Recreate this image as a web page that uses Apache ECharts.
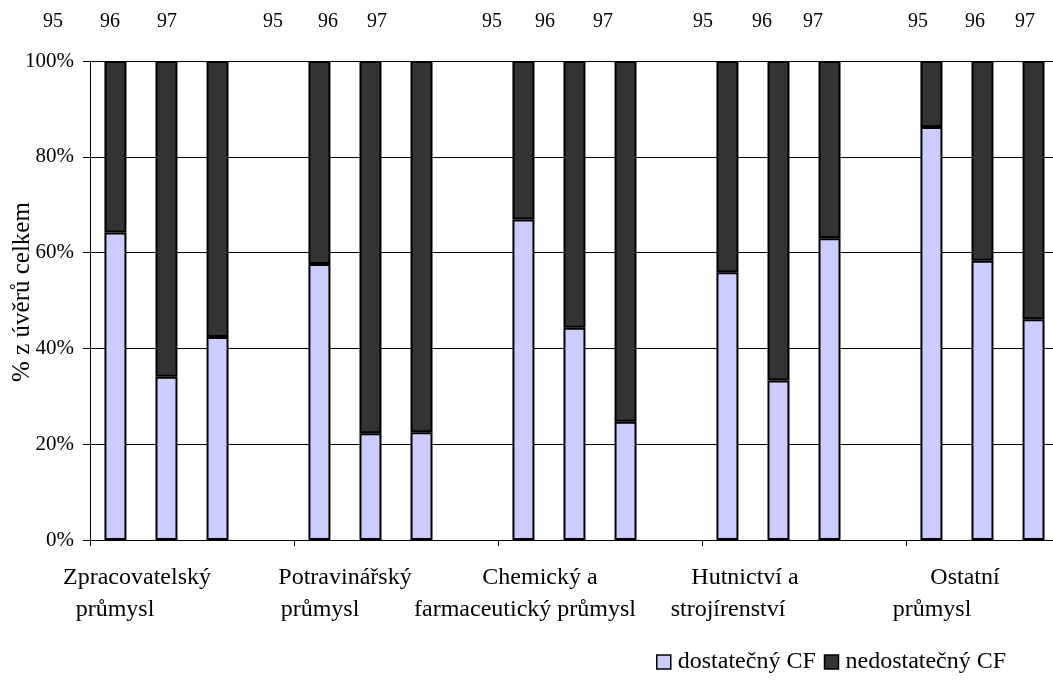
<!DOCTYPE html>
<html>
<head>
<meta charset="utf-8">
<script src="https://cdn.jsdelivr.net/npm/echarts@6/dist/echarts.min.js"></script>
<style>
html,body{margin:0;padding:0;background:#fff;}
#chart{width:1053px;height:696px;}
</style>
</head>
<body>
<div id="chart"></div>
<script>
// ---- data ----
const categories = ['Zpracovatelský průmysl', 'Potravinářský průmysl', 'Chemický a farmaceutický průmysl', 'Hutnictví a strojírenství', 'Ostatní průmysl'];
const categoryLines = [
  ['Zpracovatelský', 'průmysl'],
  ['Potravinářský', 'průmysl'],
  ['Chemický a', 'farmaceutický průmysl'],
  ['Hutnictví a', 'strojírenství'],
  ['Ostatní', 'průmysl']
];
const years = ['95', '96', '97'];
const seriesNames = ['dostatečný CF', 'nedostatečný CF'];
const yAxisTitle = '% z úvěrů celkem';
const dost95 = [64.2, 57.6, 66.9, 55.9, 86.2];
const dost96 = [34.1, 22.3, 44.3, 33.3, 58.3];
const dost97 = [42.4, 22.5, 24.7, 63.0, 46.1];
const nedost95 = [35.8, 42.4, 33.1, 44.1, 13.8];
const nedost96 = [65.9, 77.7, 55.7, 66.7, 41.7];
const nedost97 = [57.6, 77.5, 75.3, 37.0, 53.9];
const yTicks = [0, 20, 40, 60, 80, 100];

// ---- layout / style ----
const FONT = "'Liberation Serif', 'Times New Roman', serif";
const dostValues = [dost95, dost96, dost97];
const nedostValues = [nedost95, nedost96, nedost97];
const colors = ['#CCCCFF', '#333333'];

const series = [];
years.forEach((y, i) => {
  series.push({
    type: 'bar', name: seriesNames[0], stack: 'y' + y, data: dostValues[i],
    barWidth: 22, barGap: '132%',
    itemStyle: { color: colors[0], borderColor: '#000', borderWidth: 2 }
  });
  series.push({
    type: 'bar', name: seriesNames[1], stack: 'y' + y, data: nedostValues[i],
    barWidth: 22, barGap: '132%',
    itemStyle: { color: colors[1], borderColor: '#000', borderWidth: 2 }
  });
});
// empty fourth slot in each category (as in the original chart)
series.push({ type: 'bar', name: 'gap', stack: 'gap', data: [], barWidth: 22, barGap: '132%', silent: true });

// annotation positions (pixel layout)
const yearLabelX = [[53, 110, 167], [273, 328, 377], [492, 545, 603], [703, 762, 813], [918, 975, 1025]];
const catLine1X = [137, 345, 540, 745, 965];
const catLine2X = [115, 320, 525, 728, 932];

const graphic = [];
yearLabelX.forEach((xs) => {
  xs.forEach((x, j) => {
    graphic.push({ type: 'text', x: x, y: 22, style: { text: years[j], font: '20px ' + FONT, fill: '#000', textAlign: 'center', textVerticalAlign: 'middle' } });
  });
});
categoryLines.forEach((lines, i) => {
  graphic.push({ type: 'text', x: catLine1X[i], y: 578, style: { text: lines[0], font: '24px ' + FONT, fill: '#000', textAlign: 'center', textVerticalAlign: 'middle' } });
  graphic.push({ type: 'text', x: catLine2X[i], y: 610, style: { text: lines[1], font: '24px ' + FONT, fill: '#000', textAlign: 'center', textVerticalAlign: 'middle' } });
});
graphic.push({ type: 'text', x: 22, y: 292, rotation: Math.PI / 2, style: { text: yAxisTitle, font: '25px ' + FONT, fill: '#000', textAlign: 'center', textVerticalAlign: 'middle' } });

const chart = echarts.init(document.getElementById('chart'), null, { renderer: 'canvas' });
chart.setOption({
  backgroundColor: '#fff',
  animation: false,
  textStyle: { fontFamily: FONT, color: '#000' },
  grid: { left: 90, top: 61, width: 1020, height: 479, containLabel: false, outerBoundsMode: 'none' },
  legend: {
    data: seriesNames,
    left: 651, top: 645,
    icon: 'rect', itemWidth: 14, itemHeight: 14, itemGap: 8,
    itemStyle: { borderColor: '#000', borderWidth: 1.5 },
    textStyle: { fontFamily: FONT, fontSize: 24, color: '#000', padding: [0, 0, 0, 2] }
  },
  xAxis: {
    type: 'category', data: categories, boundaryGap: true,
    axisLine: { show: true, lineStyle: { color: '#000', width: 1 } },
    axisTick: { show: true, interval: 0, length: 6, lineStyle: { color: '#000' } },
    axisLabel: { show: false, interval: 0 },
    splitLine: { show: false }
  },
  yAxis: {
    type: 'value', min: yTicks[0], max: yTicks[yTicks.length - 1], interval: yTicks[1] - yTicks[0],
    axisLine: { show: true, lineStyle: { color: '#000', width: 1 } },
    axisTick: { show: true, length: 7, lineStyle: { color: '#000' } },
    axisLabel: { formatter: '{value}%', fontFamily: FONT, fontSize: 21, color: '#000', margin: 16 },
    splitLine: { show: true, lineStyle: { color: '#000', width: 1 } }
  },
  series: series,
  graphic: graphic
});
</script>
</body>
</html>
